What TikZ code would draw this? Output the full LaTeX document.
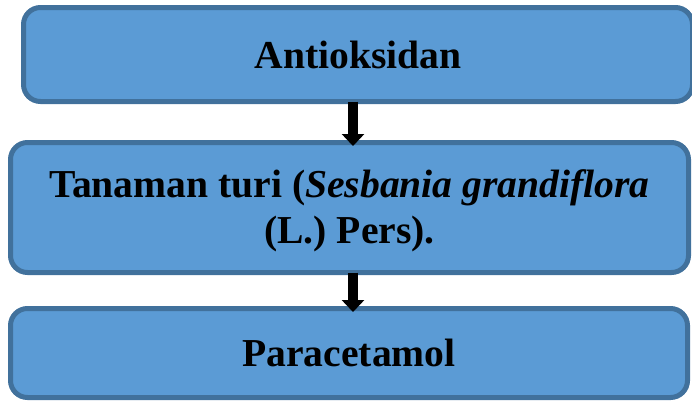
\documentclass[tikz,border=0pt]{standalone}
\usepackage{fontspec}
\setmainfont{Liberation Serif}
\usetikzlibrary{arrows.meta}
\definecolor{boxfill}{HTML}{5B9BD5}
\definecolor{boxline}{HTML}{41719C}
\tikzset{
  flowbox/.style={draw=boxline, fill=boxfill, line width=5pt, rounded corners=17pt,
    inner sep=0pt, outer sep=0pt, align=center,
    font=\fontsize{39.6}{46}\selectfont\bfseries},
  flowarrow/.style={draw=black, line width=10pt,
    -{Triangle[width=22pt,length=12pt]}}
}
\begin{document}
\begin{tikzpicture}[x=1pt,y=-1pt]
  \useasboundingbox (0,0) rectangle (692,400);
  % the three stages of the flow
  \node[flowbox, minimum width=669pt, minimum height=94pt] (b1) at (358,54.5) {Antioksidan};
  \node[flowbox, minimum width=678pt, minimum height=130pt] (b2) at (349.5,207.5) {};
  \node[align=center, font=\fontsize{39.6}{46}\selectfont\bfseries, inner sep=0pt]
    (t2) at ([yshift=-3pt]b2.center)
    {Tanaman turi (\textit{Sesbania grandiflora}\\(L.) Pers).};
  \node[flowbox, minimum width=677pt, minimum height=89pt] (b3) at (349,353) {Paracetamol};
  % connectors between the stages
  \coordinate (ax) at (353,0);
  \draw[flowarrow] (b1.south -| ax) -- ([yshift=-3.5pt]b2.north -| ax);
  \draw[flowarrow] (b2.south -| ax) -- ([yshift=-3.5pt]b3.north -| ax);
\end{tikzpicture}
\end{document}
